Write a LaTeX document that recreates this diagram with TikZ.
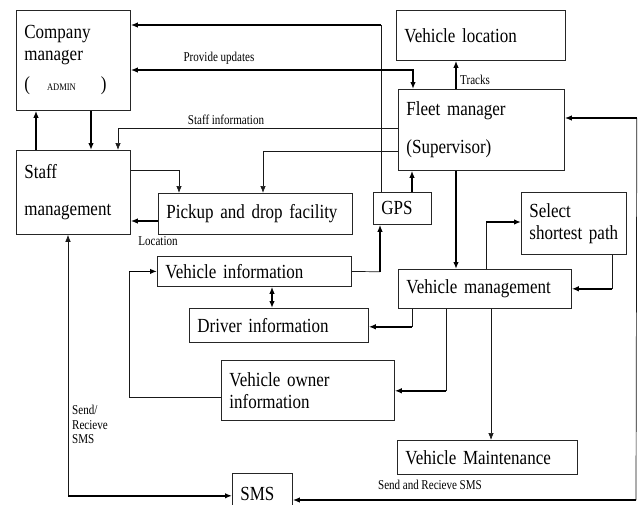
\documentclass[tikz,border=0pt]{standalone}
\usepackage{fontspec}
\setmainfont{Liberation Serif}[FakeStretch=0.85]
\newfontfamily\lblfont{Liberation Serif}[FakeStretch=0.82]
\usetikzlibrary{calc,arrows.meta}
\newcommand\myboxfont{\fontsize{20}{22}\selectfont\spaceskip=3.6pt\relax}
\newcommand\mylblfont{\lblfont\fontsize{13.5}{14.5}\selectfont\spaceskip=2.6pt\relax}
\begin{document}
\begin{tikzpicture}[x=1pt,y=-1pt,
  box/.style={draw=black!85, line width=0.8pt, rectangle, anchor=north west, inner xsep=8pt, inner ysep=1pt, align=left, font={\myboxfont}},
  lbl/.style={font={\mylblfont}, inner sep=0pt},
  ln/.style={line width=0.7pt, draw=black!90},
  tk/.style={line width=1.6pt, draw=black},
  arr/.style={-{Latex[length=7pt,width=5.5pt]}},
  darr/.style={{Latex[length=7pt,width=5.5pt]}-{Latex[length=7pt,width=5.5pt]}}]
\clip (0,0) rectangle (640,504);
\fill[white] (0,0) rectangle (640,504);
% boxes
\node[box, text width=98pt, minimum height=100pt] (cm) at (16,10) {Company\\manager\\[8pt](\hspace{17pt}{\fontsize{10}{10}\selectfont ADMIN}\hspace{25pt})};
\node[box, text width=153pt, minimum height=50pt] (vl) at (396,10) {Vehicle location};
\node[box, text width=150pt, minimum height=81pt] (fm) at (398,89) {Fleet manager\\[16pt](Supervisor)};
\node[box, text width=98pt, minimum height=84pt] (sm) at (16,150) {Staff\\[15pt]management};
\node[box, text width=178pt, minimum height=41pt] (pd) at (158,193) {Pickup and drop facility};
\node[box, text width=42pt, minimum height=32pt] (gps) at (373,192) {GPS};
\node[box, inner xsep=5pt, text width=95pt, minimum height=62pt] (sp) at (521,192) {\hspace*{3pt}Select\\\hspace*{3pt}shortest path};
\node[box, text width=178pt, minimum height=30pt] (vi) at (157,256) {Vehicle information};
\node[box, text width=157pt, minimum height=39pt] (vm) at (398,269) {Vehicle management};
\node[box, text width=163pt, minimum height=34pt] (di) at (189,308) {Driver information};
\node[box, text width=157pt, minimum height=60pt] (vo) at (221,360) {Vehicle owner\\information};
\node[box, text width=164pt, minimum height=34pt] (vmt) at (397,440) {Vehicle Maintenance};
\node[box, text width=44pt, minimum height=42pt] (sms) at (232,473) {SMS};
% connectors
\coordinate (c1) at ($(gps.north west)+(8,-167)$);
\draw[ln] (c1) -- (c1 |- gps.north);
\draw[tk,arr] (c1) -- (c1 -| cm.east);
\draw[tk,darr] ($(cm.north east)+(0,60)$) -| ($(fm.north west)+(15,0)$);
\node[lbl] (lpu) at (219,58) {Provide updates};
\draw[ln,arr] ($(fm.north west)+(0,39)$) -| ($(sm.north west)+(102,0)$);
\node[lbl] (lsi) at (226,120) {Staff information};
\draw[tk,arr] ($(cm.south west)+(75,0)$) -- ($(sm.north west)+(75,0)$);
\draw[tk,arr] ($(sm.north west)+(20,0)$) -- ($(cm.south west)+(20,0)$);
\draw[ln,arr] ($(fm.north west)+(0,62)$) -| ($(pd.north west)+(105,0)$);
\draw[ln,arr] ($(sm.north east)+(0,20)$) -| ($(pd.north west)+(21,0)$);
\draw[tk,arr] ($(pd.north west)+(0,28)$) -- ($(sm.north east)+(0,71)$);
\node[lbl] (lloc) at (158,241) {Location};
\draw[tk,arr] ($(gps.north west)+(39,0)$) -- ($(fm.south west)+(14,0)$);
\coordinate (c4) at ($(gps.south west)+(7,47)$);
\draw[ln] (vi.east) -- (c4);
\draw[tk,arr] (c4) -- ($(gps.south west)+(7,0)$);
\draw[tk,darr] ($(vi.south west)+(115,0)$) -- ($(di.north west)+(83,0)$);
\draw[tk,arr] ($(fm.south west)+(58,0)$) -- ($(vm.north west)+(58,0)$);
\draw[tk,arr] ($(fm.north west)+(58,0)$) -- ($(vl.south west)+(60,0)$);
\node[lbl, anchor=west] (ltr) at (460,80) {Tracks};
\coordinate (c5) at ($(vm.north west)+(88,-47)$);
\draw[ln] ($(vm.north west)+(88,0)$) -- (c5);
\draw[tk,arr] (c5) -- (c5 -| sp.west);
\coordinate (c6) at ($(sp.south west)+(91,34)$);
\draw[ln] ($(sp.south west)+(91,0)$) -- (c6);
\draw[tk,arr] (c6) -- (c6 -| vm.east);
\coordinate (c7) at ($(vm.south west)+(14,18)$);
\draw[ln] ($(vm.south west)+(14,0)$) -- (c7);
\draw[tk,arr] (c7) -- (c7 -| di.east);
\coordinate (c8) at ($(vm.south west)+(48,82)$);
\draw[ln] ($(vm.south west)+(48,0)$) -- (c8);
\draw[tk,arr] (c8) -- (c8 -| vo.east);
\draw[ln,arr] ($(vm.south west)+(93,0)$) -- ($(vmt.north west)+(94,0)$);
\coordinate (c9) at ($(vi.west)+(-28,0)$);
\draw[ln] ($(vo.north west)+(0,37)$) -| (c9);
\draw[tk,arr] (c9) -- (vi.west);
\coordinate (c2) at ($(sm.south west)+(52,261)$);
\draw[ln,arr] (c2) -- ($(sm.south west)+(52,0)$);
\draw[tk,arr] (c2) -- (c2 -| sms.west);
\node[lbl, align=left, anchor=north west] (lsr) at (72,405) {Send/\\Recieve\\SMS};
\coordinate (c3) at (636,500);
\coordinate (c10) at ($(fm.north east)+(72,29)$);
\draw[ln] (c3) -- (c10);
\draw[tk,arr] (c10) -- (c10 -| fm.east);
\draw[tk,arr] (c3) -- (c3 -| sms.east);
\node[lbl] (lss) at (430,485) {Send and Recieve SMS};
\end{tikzpicture}
\end{document}
